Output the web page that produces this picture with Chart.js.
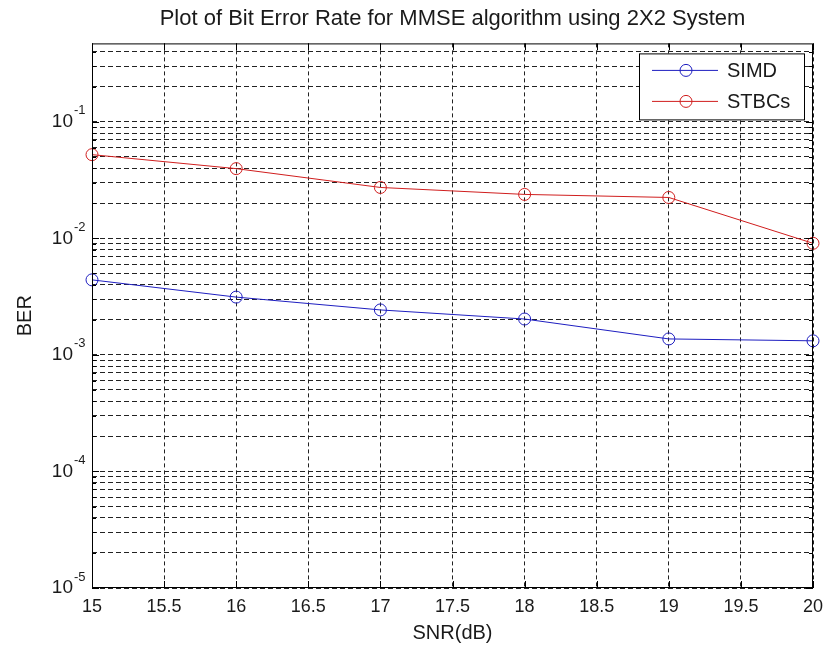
<!DOCTYPE html>
<html>
<head>
<meta charset="utf-8">
<script src="https://cdn.jsdelivr.net/npm/chart.js@4/dist/chart.umd.min.js"></script>
<style>
  html, body { margin: 0; padding: 0; background: #fff; }
  #wrap { width: 825px; height: 645px; }
</style>
</head>
<body>
<div id="wrap"><canvas id="berChart"></canvas></div>
<script>
// data
const snrValues = [15, 16, 17, 18, 19, 20];
const simdBer = [0.0044, 0.00313, 0.00243, 0.00203, 0.00137, 0.00132];
const stbcBer = [0.0522, 0.0396, 0.0273, 0.0238, 0.0224, 0.00906];
const decadeExps = [-5, -4, -3, -2, -1];
const mantissas = [1, 2, 3, 4, 5, 6, 7, 8, 9];
const yMin = 1e-5;
const yMax = 0.47;

const textColor = '#1a1a1a';
const gridColor = '#222';

// all grid values (1..9 x 10^n) inside the range
const yGridValues = [];
decadeExps.forEach(e => {
    mantissas.forEach(m => {
        const v = m * Math.pow(10, e);
        if (v >= yMin && v <= yMax) yGridValues.push(v);
    });
});

// box, inward ticks, y labels with superscripts, legend
const matlabAxes = {
    id: 'matlabAxes',
    afterDraw(chart) {
        const ctx = chart.ctx;
        const area = chart.chartArea;
        const xs = chart.scales.x;
        const ys = chart.scales.y;
        ctx.save();
        ctx.strokeStyle = '#000';
        ctx.lineWidth = 1;
        ctx.setLineDash([]);
        ctx.strokeRect(area.left + 0.5, area.top + 0.5, area.right - area.left - 1, area.bottom - area.top - 1);

        // x tick marks (bottom and top)
        ctx.beginPath();
        xs.ticks.forEach(t => {
            const px = Math.round(xs.getPixelForValue(t.value)) + 0.5;
            ctx.moveTo(px, area.bottom); ctx.lineTo(px, area.bottom - 7);
            ctx.moveTo(px, area.top); ctx.lineTo(px, area.top + 7);
        });
        // y tick marks (left and right)
        yGridValues.forEach(v => {
            const py = Math.round(ys.getPixelForValue(v)) + 0.5;
            const major = Math.abs(Math.log10(v) - Math.round(Math.log10(v))) < 1e-9;
            const len = major ? 7 : 4;
            ctx.moveTo(area.left, py); ctx.lineTo(area.left + len, py);
            ctx.moveTo(area.right, py); ctx.lineTo(area.right - len, py);
        });
        ctx.stroke();

        // y labels 10^n
        ctx.fillStyle = textColor;
        decadeExps.concat([0]).forEach(e => {
            const v = Math.pow(10, e);
            if (v < yMin || v > yMax) return;
            const py = ys.getPixelForValue(v);
            ctx.font = '19px Arial, "Liberation Sans", sans-serif';
            ctx.textAlign = 'right';
            ctx.textBaseline = 'middle';
            ctx.fillText('10', 73, py);
            ctx.font = '13px Arial, "Liberation Sans", sans-serif';
            ctx.textAlign = 'left';
            ctx.fillText(String(e), 74, py - 11);
        });

        // legend box inside the axes
        const bw = 165, bh = 66;
        const bx = area.right - 9 - bw;
        const by = area.top + 10;
        ctx.fillStyle = '#fff';
        ctx.fillRect(bx, by, bw, bh);
        ctx.strokeStyle = '#000';
        ctx.strokeRect(bx + 0.5, by + 0.5, bw, bh);
        chart.data.datasets.forEach((ds, i) => {
            const ly = by + 17 + i * 31;
            ctx.strokeStyle = ds.borderColor;
            ctx.lineWidth = 1;
            ctx.beginPath();
            ctx.moveTo(bx + 13, ly); ctx.lineTo(bx + 79, ly);
            ctx.stroke();
            ctx.beginPath();
            ctx.arc(bx + 47, ly, 6, 0, Math.PI * 2);
            ctx.stroke();
            ctx.fillStyle = textColor;
            ctx.font = '20px Arial, "Liberation Sans", sans-serif';
            ctx.textAlign = 'left';
            ctx.textBaseline = 'middle';
            ctx.fillText(ds.label, bx + 88, ly + 1);
        });
        ctx.restore();
    }
};

const ctx = document.getElementById('berChart').getContext('2d');
new Chart(ctx, {
    type: 'line',
    data: {
        datasets: [{
            label: 'SIMD',
            data: snrValues.map((x, i) => ({x: x, y: simdBer[i]})),
            borderColor: '#1e1ec0',
            backgroundColor: 'rgba(0,0,0,0)',
            borderWidth: 1,
            pointRadius: 6,
            pointBorderWidth: 1,
            pointBackgroundColor: 'rgba(0,0,0,0)',
            tension: 0
        }, {
            label: 'STBCs',
            data: snrValues.map((x, i) => ({x: x, y: stbcBer[i]})),
            borderColor: '#d01e1e',
            backgroundColor: 'rgba(0,0,0,0)',
            borderWidth: 1,
            pointRadius: 6,
            pointBorderWidth: 1,
            pointBackgroundColor: 'rgba(0,0,0,0)',
            tension: 0
        }]
    },
    options: {
        responsive: true,
        maintainAspectRatio: false,
        animation: false,
        clip: false,
        layout: { padding: { left: 0, right: 12, top: 0, bottom: 0 } },
        plugins: {
            legend: { display: false },
            tooltip: { enabled: false },
            title: {
                display: true,
                fullSize: false,
                text: 'Plot of Bit Error Rate for MMSE algorithm using 2X2 System',
                color: textColor,
                font: { family: 'Arial, "Liberation Sans", sans-serif', size: 22, weight: 'normal' },
                padding: { top: 6, bottom: 11 }
            }
        },
        scales: {
            x: {
                type: 'linear',
                min: 15,
                max: 20,
                ticks: {
                    stepSize: 0.5,
                    color: textColor,
                    padding: 8,
                    maxRotation: 0,
                    font: { family: 'Arial, "Liberation Sans", sans-serif', size: 18 },
                    callback: function(value) {
                        return String(Math.round(value * 10) / 10);
                    }
                },
                grid: { color: gridColor, lineWidth: 1, drawTicks: false },
                border: { display: false, dash: [4, 3] },
                title: {
                    display: true,
                    text: 'SNR(dB)',
                    color: textColor,
                    font: { family: 'Arial, "Liberation Sans", sans-serif', size: 20 },
                    padding: { top: 0, bottom: 0 }
                },
                afterFit(scale) {
                    scale.height = 57;
                    scale.paddingLeft = 0;
                    scale.paddingRight = 0;
                }
            },
            y: {
                type: 'logarithmic',
                min: yMin,
                max: yMax,
                afterBuildTicks(scale) {
                    scale.ticks = yGridValues.map(v => ({value: v}));
                },
                ticks: { display: false, autoSkip: false },
                grid: { color: gridColor, lineWidth: 1, drawTicks: false },
                border: { display: false, dash: [5, 3] },
                title: {
                    display: true,
                    text: 'BER',
                    color: textColor,
                    font: { family: 'Arial, "Liberation Sans", sans-serif', size: 20 },
                    padding: { top: 13, bottom: 0 }
                },
                afterFit(scale) {
                    scale.width = 92;
                    scale.paddingTop = 0;
                    scale.paddingBottom = 0;
                }
            }
        }
    },
    plugins: [matlabAxes]
});
</script>
</body>
</html>
